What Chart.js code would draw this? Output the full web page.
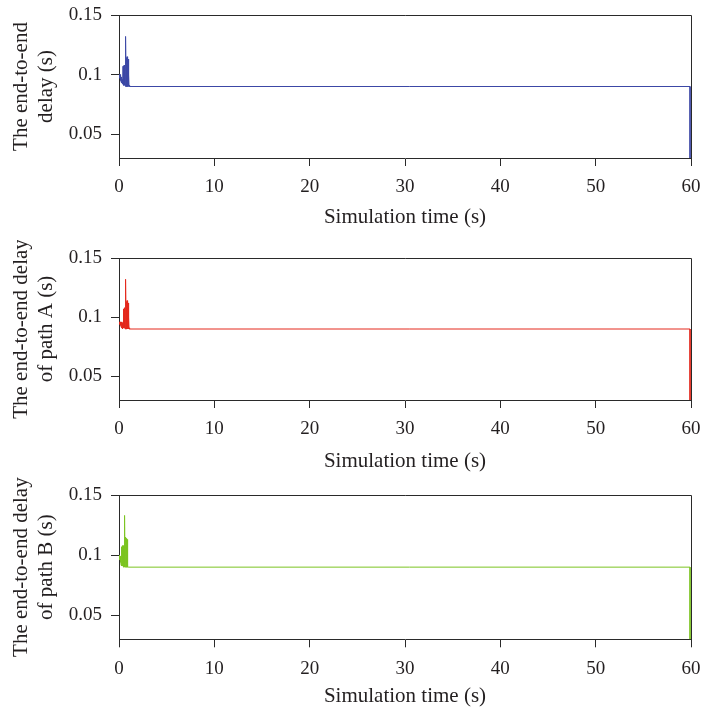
<!DOCTYPE html>
<html>
<head>
<meta charset="utf-8">
<script src="https://cdn.jsdelivr.net/npm/chart.js@4/dist/chart.umd.min.js"></script>
<style>
  html, body { margin: 0; padding: 0; background: #fff; }
  body { width: 703px; height: 714px; position: relative; overflow: hidden; }
  .box { position: absolute; left: 0; width: 703px; }
</style>
</head>
<body>
<div class="box" id="b1" style="top:0px;height:240px"><canvas id="c1"></canvas></div>
<div class="box" id="b2" style="top:240px;height:236px"><canvas id="c2"></canvas></div>
<div class="box" id="b3" style="top:476px;height:238px"><canvas id="c3"></canvas></div>
<script>
// ---- data ----
const time = [0, 0.03, 0.06, 0.09, 0.12, 0.15, 0.18, 0.21, 0.24, 0.27, 0.30, 0.33, 0.36, 0.39,
  0.42, 0.45, 0.48, 0.51, 0.54, 0.57, 0.60, 0.63, 0.66, 0.69, 0.72, 0.75, 0.78, 0.81, 0.84,
  0.87, 0.90, 0.93, 0.96, 0.99, 1.02, 1.05, 1.08, 1.11, 1.14, 59.9, 59.9];

const delayTotal = [0.100, 0.099, 0.100, 0.097, 0.100, 0.095, 0.099, 0.094, 0.098, 0.093, 0.097,
  0.093, 0.096, 0.092, 0.107, 0.092, 0.107, 0.091, 0.108, 0.091, 0.107, 0.091, 0.108, 0.090,
  0.132, 0.090, 0.114, 0.090, 0.115, 0.090, 0.114, 0.090, 0.113, 0.090, 0.100, 0.090, 0.091,
  0.090, 0.090, 0.090, 0.030];

const delayPathA = [0.096, 0.095, 0.096, 0.094, 0.096, 0.093, 0.096, 0.092, 0.096, 0.091, 0.095,
  0.091, 0.095, 0.090, 0.096, 0.091, 0.107, 0.091, 0.107, 0.091, 0.108, 0.090, 0.107, 0.090,
  0.132, 0.090, 0.113, 0.090, 0.114, 0.090, 0.114, 0.090, 0.112, 0.090, 0.100, 0.090, 0.091,
  0.090, 0.090, 0.090, 0.030];

const delayPathB = [0.100, 0.098, 0.100, 0.096, 0.099, 0.094, 0.097, 0.092, 0.096, 0.091, 0.107,
  0.091, 0.108, 0.091, 0.107, 0.090, 0.108, 0.090, 0.107, 0.090, 0.133, 0.090, 0.115, 0.090,
  0.115, 0.090, 0.114, 0.090, 0.113, 0.090, 0.091, 0.090, 0.090, 0.090, 0.090, 0.090, 0.090,
  0.090, 0.090, 0.090, 0.030];

const xTicks = [0, 10, 20, 30, 40, 50, 60];
const yTicks = [0.05, 0.1, 0.15];
const yTickLabels = ['0.05', '0.1', '0.15'];
const xTitle = 'Simulation time (s)';
const yTitles = [
  ['The end-to-end', 'delay (s)'],
  ['The end-to-end delay', 'of path A (s)'],
  ['The end-to-end delay', 'of path B (s)']
];
const seriesList = [delayTotal, delayPathA, delayPathB];
const colors = ['#3c48a6', '#e4281c', '#7cc422'];

// ---- layout (per panel, canvas-relative) ----
const panels = [
  { id: 'c1', h: 240, plotTop: 15, plotBottom: 158, titleMid: 217.5 },
  { id: 'c2', h: 236, plotTop: 18, plotBottom: 160, titleMid: 221.2 },
  { id: 'c3', h: 238, plotTop: 19, plotBottom: 163.3, titleMid: 220.8 }
];

const FONT = "'Liberation Serif', 'Times New Roman', serif";
const TEXT = '#231f20';
const AXIS = '#2a2a2a';
const titleSize = 21, titleLH = 1.2;

const frame = {
  id: 'frame',
  afterDatasetsDraw(chart) {
    const a = chart.chartArea, ctx = chart.ctx;
    ctx.save();
    ctx.strokeStyle = AXIS;
    ctx.lineWidth = 1;
    ctx.beginPath();
    ctx.moveTo(a.left, a.top + 0.5);
    ctx.lineTo(a.right + 0.5, a.top + 0.5);
    ctx.lineTo(a.right + 0.5, a.bottom);
    ctx.stroke();
    ctx.restore();
  }
};

Chart.defaults.font.family = FONT;
Chart.defaults.color = TEXT;

panels.forEach((p, i) => {
  const pts = time.map((t, k) => ({ x: t, y: seriesList[i][k] }));
  const xAxisH = p.h - p.plotBottom;
  const titlePadBottom = p.h - p.titleMid - titleSize * titleLH / 2;
  new Chart(document.getElementById(p.id), {
    type: 'line',
    data: {
      datasets: [{
        data: pts,
        borderColor: colors[i],
        borderWidth: 1,
        pointRadius: 0,
        tension: 0,
        fill: false
      }]
    },
    options: {
      responsive: true,
      maintainAspectRatio: false,
      animation: false,
      events: [],
      layout: { padding: { top: p.plotTop, right: 12, left: 0, bottom: 0 } },
      plugins: { legend: { display: false }, tooltip: { enabled: false } },
      scales: {
        x: {
          type: 'linear',
          min: 0, max: 60,
          afterBuildTicks(s) { s.ticks = xTicks.map(v => ({ value: v })); },
          afterFit(s) { s.height = xAxisH; s.paddingLeft = 0; s.paddingRight = 0; },
          grid: { drawOnChartArea: false, drawTicks: true, tickLength: 8, color: AXIS, lineWidth: 1 },
          border: { display: true, color: AXIS, width: 1 },
          ticks: { font: { size: 19, family: FONT }, color: TEXT, padding: 10, maxRotation: 0,
                   callback: v => String(v) },
          title: { display: true, text: xTitle, color: TEXT,
                   font: { size: titleSize, family: FONT, lineHeight: titleLH },
                   padding: { top: 0, bottom: titlePadBottom } }
        },
        y: {
          type: 'linear',
          min: 0.03, max: 0.15,
          afterBuildTicks(s) { s.ticks = yTicks.map(v => ({ value: v })); },
          afterFit(s) { s.width = 119; s.paddingTop = 0; s.paddingBottom = 0; },
          grid: { drawOnChartArea: false, drawTicks: true, tickLength: 8, color: AXIS, lineWidth: 1 },
          border: { display: true, color: AXIS, width: 1 },
          ticks: { font: { size: 19, family: FONT }, color: TEXT, padding: 9,
                   callback: (v) => { const k = yTicks.indexOf(v); return k >= 0 ? yTickLabels[k] : ''; } },
          title: { display: true, text: yTitles[i], color: TEXT,
                   font: { size: titleSize, family: FONT, lineHeight: titleLH },
                   padding: { top: 9, bottom: 0 } }
        }
      }
    },
    plugins: [frame]
  });
});
</script>
</body>
</html>
